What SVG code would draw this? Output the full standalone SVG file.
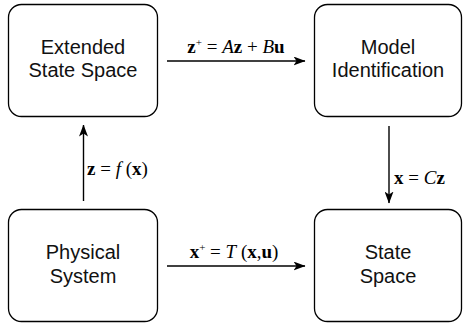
<svg xmlns="http://www.w3.org/2000/svg" width="463" height="329" viewBox="0 0 463 329">
<style>
.box{fill:#fff;stroke:#000;stroke-width:1.3}
.lbl{font-family:"Liberation Sans",Arial,sans-serif;font-size:20px;text-anchor:middle;fill:#111}
.eq{font-family:"Liberation Serif","Times New Roman",serif;font-size:19px;fill:#000}
.b{font-weight:bold}
.i{font-style:italic}
.con{stroke:#000;stroke-width:1.4;fill:none;marker-end:url(#ah)}
</style>
<defs>
<marker id="ah" viewBox="0 0 12 9" refX="11.5" refY="4.5" markerWidth="12" markerHeight="9" markerUnits="userSpaceOnUse" orient="auto">
<path d="M0,0 L12,4.5 L0,9 L3,4.5 Z" fill="#000"/>
</marker>
</defs>
<rect width="463" height="329" fill="#fff"/>
<g id="extended">
<rect class="box" x="8.5" y="4.5" width="149" height="112" rx="13"/>
<text class="lbl" x="83" y="54">Extended</text>
<text class="lbl" x="83" y="77">State Space</text>
</g>
<g id="model">
<rect class="box" x="314.5" y="4.5" width="147" height="112" rx="13"/>
<text class="lbl" x="388" y="54">Model</text>
<text class="lbl" x="388" y="77">Identification</text>
</g>
<g id="physical">
<rect class="box" x="8.5" y="209.5" width="149" height="112" rx="13"/>
<text class="lbl" x="83" y="259">Physical</text>
<text class="lbl" x="83" y="283">System</text>
</g>
<g id="state">
<rect class="box" x="314.5" y="209.5" width="147" height="112" rx="13"/>
<text class="lbl" x="388" y="259">State</text>
<text class="lbl" x="388" y="283">Space</text>
</g>
<g id="connectors">
<path class="con" d="M167,61 H305"/>
<path class="con" d="M167,266 H305"/>
<path class="con" d="M83.5,201 V125"/>
<path class="con" d="M389,126 V203"/>
<text class="eq" x="236" y="53" text-anchor="middle"><tspan class="b">z</tspan><tspan font-size="11" dy="-7">+</tspan><tspan dy="7"> = </tspan><tspan class="i">A</tspan><tspan class="b">z</tspan> + <tspan class="i">B</tspan><tspan class="b">u</tspan></text>
<text class="eq" x="234" y="258" text-anchor="middle"><tspan class="b">x</tspan><tspan font-size="11" dy="-7">+</tspan><tspan dy="7"> = </tspan><tspan class="i">T</tspan> (<tspan class="b">x</tspan>,<tspan class="b">u</tspan>)</text>
<text class="eq" x="87" y="175"><tspan class="b">z</tspan> = <tspan class="i">f</tspan> (<tspan class="b">x</tspan>)</text>
<text class="eq" x="394" y="184"><tspan class="b">x</tspan> = <tspan class="i">C</tspan><tspan class="b">z</tspan></text>
</g>
</svg>
